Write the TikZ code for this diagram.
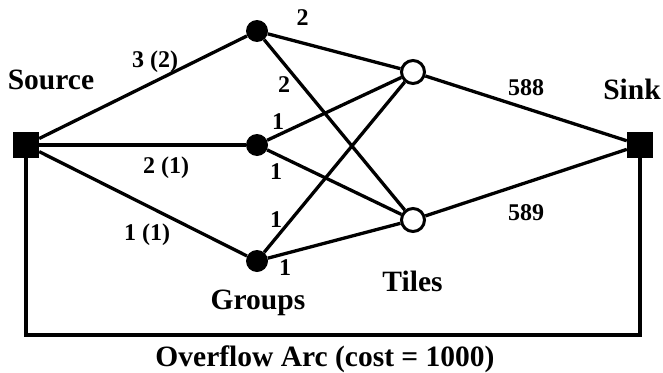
\documentclass[tikz,border=0pt]{standalone}
\usepackage{fontspec}
\setmainfont{Liberation Serif}
\begin{document}
\begin{tikzpicture}[x=1pt,y=-1pt,
  grp/.style={circle, fill=black, minimum size=22pt, inner sep=0pt},
  tile/.style={circle, draw=black, line width=3pt, fill=white, minimum size=23pt, inner sep=0pt},
  term/.style={rectangle, fill=black, minimum size=26pt, inner sep=0pt},
  arc/.style={line width=3.3pt, line join=miter},
  big/.style={font=\bfseries\fontsize{29.5}{31}\selectfont, inner sep=0pt, anchor=base},
  lab/.style={font=\bfseries\fontsize{24}{25}\selectfont, inner sep=0pt, anchor=base}]
\useasboundingbox (0,0) rectangle (663,372);
% nodes
\node[term] (src) at (26,145) {};
\node[term] (snk) at (640,145) {};
\node[grp] (g1) at (257,31) {};
\node[grp] (g2) at (257,145) {};
\node[grp] (g3) at (257,261) {};
\node[tile] (t1) at (413,72) {};
\node[tile] (t2) at (413,220) {};
\coordinate (ovl) at (26,335);
\coordinate (ovr) at (640,335);
% edges
\draw[arc] (src) -- (g1);
\draw[arc] (src) -- (g2);
\draw[arc] (src) -- (g3);
\draw[arc] (g1) -- (t1);
\draw[arc] (g1) -- (t2);
\draw[arc] (g2) -- (t1);
\draw[arc] (g2) -- (t2);
\draw[arc] (g3) -- (t1);
\draw[arc] (g3) -- (t2);
\draw[arc] (t1) -- (snk);
\draw[arc] (t2) -- (snk);
\draw[arc] (src) -- (ovl) -- (ovr) -- (snk);
% labels
\node[big] (lsrc) at (51,89.5) {Source};
\node[big] (lsnk) at (632,99.5) {Sink};
\node[big] (lgrp) at (258,309) {Groups};
\node[big] (ltil) at (412.5,291.5) {Tiles};
\node[big] (lovf) at (325,366) {Overflow Arc (cost = 1000)};
\node[lab] (e1) at (155,67) {3 (2)};
\node[lab] (e2) at (166,173) {2 (1)};
\node[lab] (e3) at (147,240) {1 (1)};
\node[lab] (e4) at (302.5,25) {2};
\node[lab] (e5) at (284,92.5) {2};
\node[lab] (e6) at (278,129) {1};
\node[lab] (e7) at (276,179) {1};
\node[lab] (e8) at (276,227) {1};
\node[lab] (e9) at (285,275) {1};
\node[lab] (e10) at (526,95.5) {588};
\node[lab] (e11) at (526,220) {589};
\end{tikzpicture}
\end{document}
